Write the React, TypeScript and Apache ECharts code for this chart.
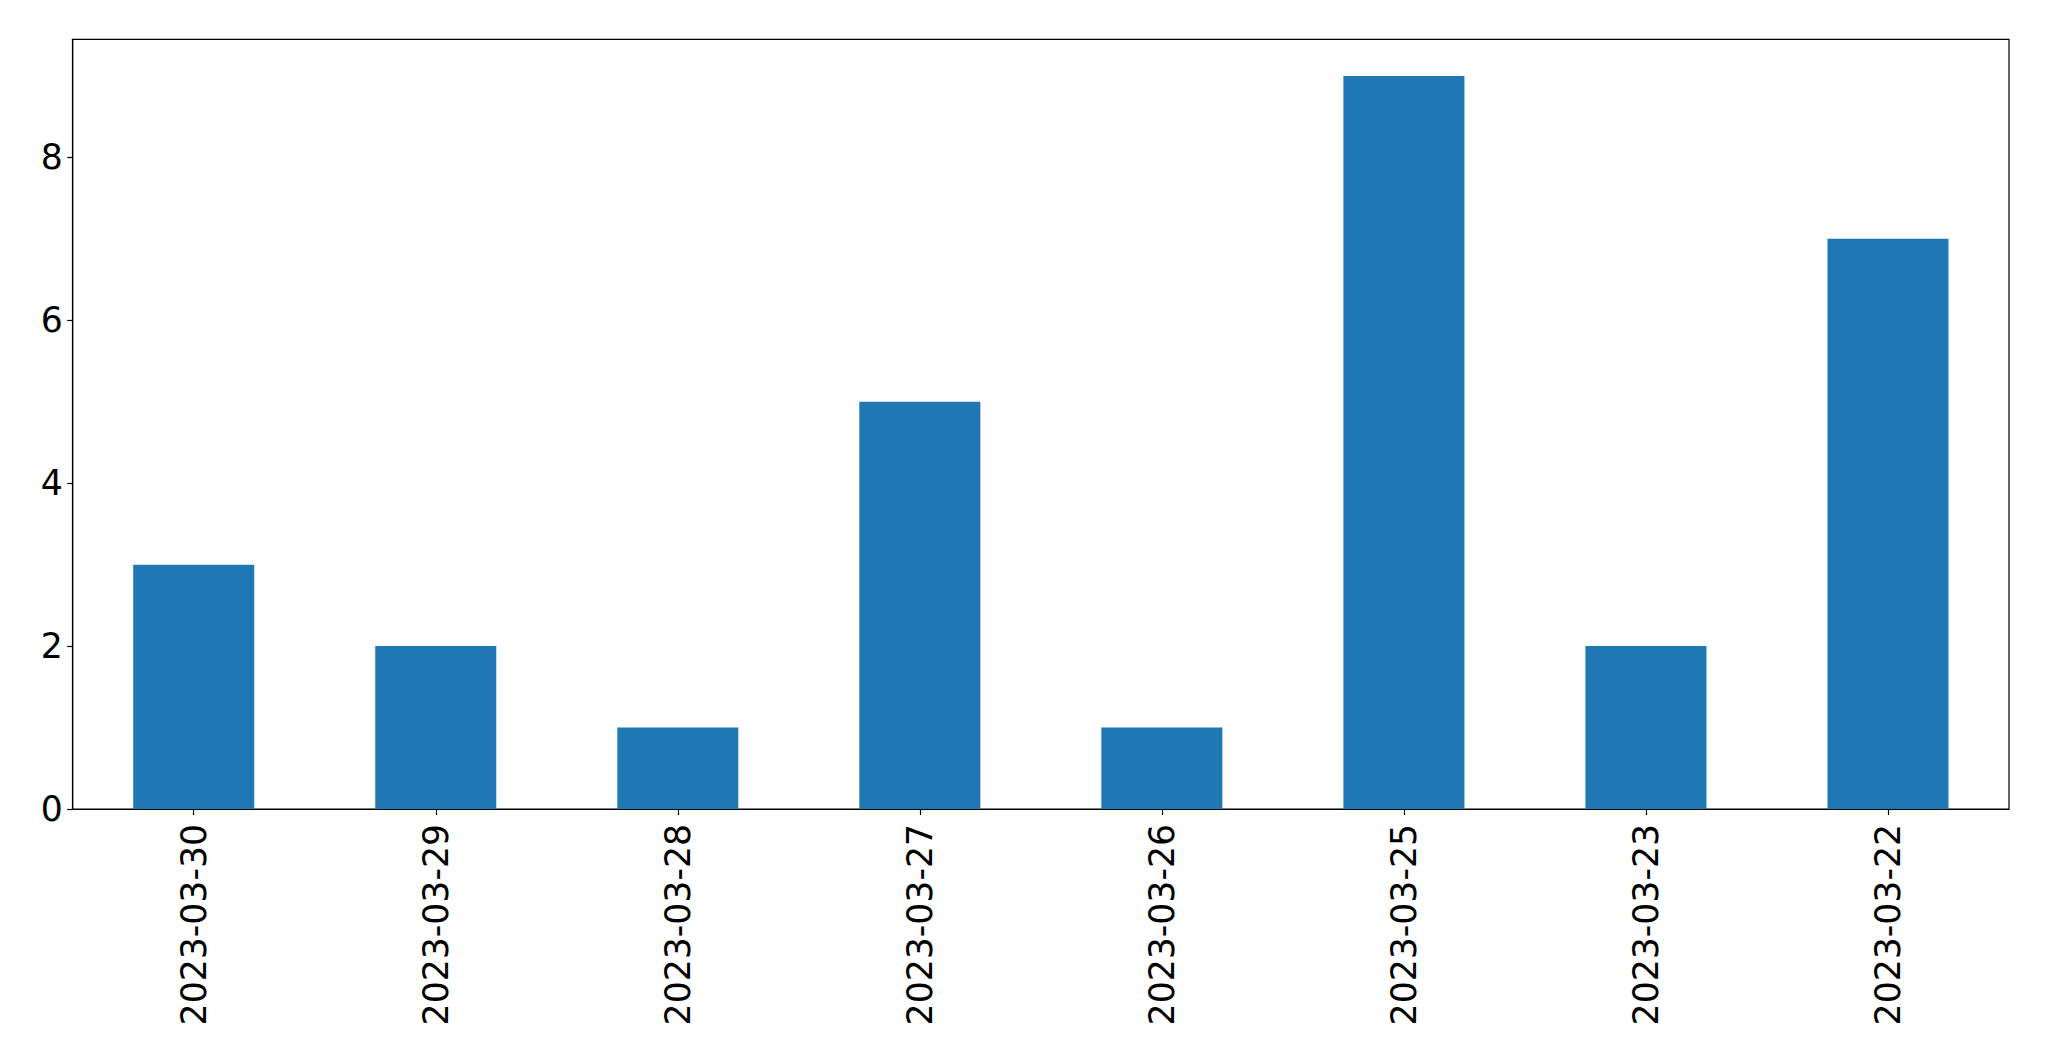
import React, { useEffect, useRef } from "react";
import * as echarts from "echarts";

const categories = ["2023-03-30", "2023-03-29", "2023-03-28", "2023-03-27", "2023-03-26", "2023-03-25", "2023-03-23", "2023-03-22"];
const counts = [3, 2, 1, 5, 1, 9, 2, 7];
const yTicks = [0, 2, 4, 6, 8];

export default function App() {
  const ref = useRef<HTMLDivElement>(null);
  useEffect(() => {
    const chart = echarts.init(ref.current!, null, { renderer: "svg" });
    const font = "'DejaVu Sans', sans-serif";
    chart.setOption({
      animation: false,
      backgroundColor: "#ffffff",
      grid: {
        left: 72.7,
        top: 39.3,
        right: 40,
        bottom: 252,
        show: true,
        borderColor: "#000000",
        borderWidth: 1.2,
        backgroundColor: "transparent",
      },
      xAxis: {
        type: "category",
        data: categories,
        axisLine: { show: true, lineStyle: { color: "#000", width: 1.2 } },
        axisTick: { show: true, alignWithLabel: true, length: 6, lineStyle: { color: "#000", width: 1.2 } },
        axisLabel: {
          rotate: 90,
          margin: 15,
          fontFamily: font,
          fontSize: 34.67,
          color: "#000",
          interval: 0,
        },
        splitLine: { show: false },
      },
      yAxis: {
        type: "value",
        min: 0,
        max: 9.45,
        interval: 2,
        axisLine: { show: true, lineStyle: { color: "#000", width: 1.2 } },
        axisTick: { show: true, length: 5.5, lineStyle: { color: "#000", width: 1.2 }, customValues: yTicks },
        axisLabel: {
          margin: 10,
          fontFamily: font,
          fontSize: 34.67,
          color: "#000",
          customValues: yTicks,
        },
        splitLine: { show: false },
      },
      series: [
        {
          type: "bar",
          data: counts,
          barWidth: "50%",
          itemStyle: { color: "#1f77b4" },
        },
      ],
    });
    return () => chart.dispose();
  }, []);
  return (
    <div
      ref={ref}
      style={{ position: "fixed", left: 0, top: 0, width: 2049, height: 1061 }}
    />
  );
}
